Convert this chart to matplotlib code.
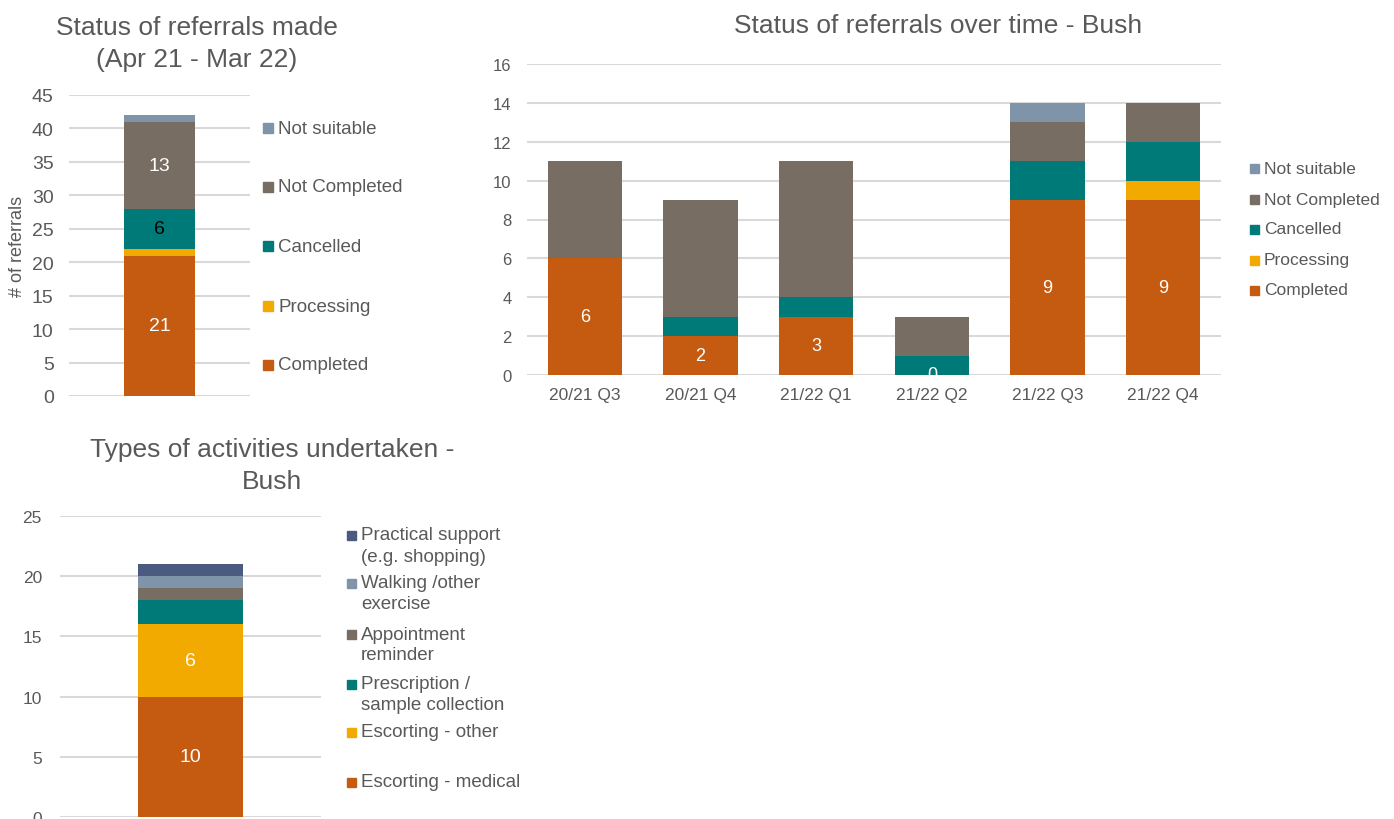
import numpy as np
import matplotlib
matplotlib.use('Agg')
import matplotlib.pyplot as plt
from matplotlib.patches import Rectangle

plt.rcParams['font.family'] = ['Liberation Sans', 'DejaVu Sans']

W, H = 1394, 820
GREY = '#595959'
GRID = '#D9D9D9'

# referral status, whole year
status_names = ['Completed', 'Processing', 'Cancelled', 'Not Completed', 'Not suitable']
status_colors = ['#C55A11', '#F2A900', '#007A78', '#786D62', '#7F94A9']
year_counts = [21, 1, 6, 13, 1]
year_labels = ['21', None, '6', '13', None]
year_label_colors = ['white', None, 'black', 'white', None]

# referral status by quarter
quarters = ['20/21 Q3', '20/21 Q4', '21/22 Q1', '21/22 Q2', '21/22 Q3', '21/22 Q4']
q_completed = [6, 2, 3, 0, 9, 9]
q_processing = [0, 0, 0, 0, 0, 1]
q_cancelled = [0, 1, 1, 1, 2, 2]
q_not_completed = [5, 6, 7, 2, 2, 2]
q_not_suitable = [0, 0, 0, 0, 1, 0]

# activity types
activity_names = ['Escorting - medical', 'Escorting - other',
                  'Prescription /\nsample collection', 'Appointment\nreminder',
                  'Walking /other\nexercise', 'Practical support\n(e.g. shopping)']
activity_colors = ['#C55A11', '#F2A900', '#007A78', '#786D62', '#7F94A9', '#4A5B7F']
activity_counts = [10, 6, 2, 1, 1, 1]
activity_labels = ['10', '6', None, None, None, None]


def px_axes(fig, x0, y0, x1, y1):
    return fig.add_axes([x0 / W, 1 - y1 / H, (x1 - x0) / W, (y1 - y0) / H])


def style_axes(ax, tick_size, pad):
    for s in ax.spines.values():
        s.set_visible(False)
    ax.set_axisbelow(True)
    ax.yaxis.grid(True, color=GRID, linewidth=1.5)
    ax.tick_params(axis='both', length=0, colors=GREY, labelsize=tick_size)
    ax.tick_params(axis='y', pad=pad)


def draw_legend(fig, names, colors, x, ys, size, sq, line_gap=21):
    for name, color, y in zip(names, colors, ys):
        fig.patches.append(Rectangle((x / W, 1 - (y + sq / 2) / H), sq / W, sq / H,
                                     transform=fig.transFigure, color=color))
        for i, line in enumerate(name.split('\n')):
            fig.text((x + sq + 5) / W, 1 - (y + i * line_gap) / H, line,
                     va='center', ha='left', fontsize=size, color=GREY)


fig = plt.figure(figsize=(W / 100, H / 100), dpi=100)

# --- status of referrals made (single stacked bar) ---
ax1 = px_axes(fig, 69, 96, 250, 397)
style_axes(ax1, 14, 11)
bottom = 0
for n, c, v, lab, lc in zip(status_names, status_colors, year_counts, year_labels, year_label_colors):
    ax1.bar(0, v, width=0.39, bottom=bottom, color=c, linewidth=0)
    if lab:
        ax1.text(0, bottom + v / 2, lab, ha='center', va='center', color=lc, fontsize=14)
    bottom += v
ax1.set_xlim(-0.5, 0.5)
ax1.set_ylim(0, 45)
ax1.set_yticks(np.arange(0, 46, 5))
ax1.set_xticks([])
ax1.set_ylabel('# of referrals', color=GREY, fontsize=13, labelpad=4)
fig.text(197 / W, 1 - 44 / H, 'Status of referrals made\n(Apr 21 - Mar 22)',
         ha='center', va='center', fontsize=19, color=GREY, linespacing=1.45)
draw_legend(fig, status_names, status_colors, 263, [366, 307, 247, 188, 129], 13.5, 10)

# --- status of referrals over time ---
ax2 = px_axes(fig, 527, 65, 1221, 376)
style_axes(ax2, 12, 11)
x = np.arange(len(quarters))
series = [q_completed, q_processing, q_cancelled, q_not_completed, q_not_suitable]
bottom = np.zeros(len(quarters))
for n, c, vals in zip(status_names, status_colors, series):
    ax2.bar(x, vals, width=0.64, bottom=bottom, color=c, linewidth=0)
    bottom += np.array(vals)
for xi, v in zip(x, q_completed):
    ax2.text(xi, v / 2, str(v), ha='center', va='center', color='white', fontsize=13)
ax2.set_xlim(-0.5, len(quarters) - 0.5)
ax2.set_ylim(0, 16)
ax2.set_yticks(np.arange(0, 17, 2))
ax2.set_xticks(x)
ax2.set_xticklabels(quarters)
ax2.tick_params(axis='x', pad=9, labelsize=12.5)
fig.text(938 / W, 1 - 26 / H, 'Status of referrals over time - Bush',
         ha='center', va='center', fontsize=19, color=GREY)
draw_legend(fig, status_names, status_colors, 1250, [291, 261, 230, 200, 169], 12.5, 9)

# --- types of activities ---
ax3 = px_axes(fig, 60, 517, 321, 818)
style_axes(ax3, 12.5, 13)
bottom = 0
for n, c, v, lab in zip(activity_names, activity_colors, activity_counts, activity_labels):
    ax3.bar(0, v, width=0.4, bottom=bottom, color=c, linewidth=0)
    if lab:
        ax3.text(0, bottom + v / 2, lab, ha='center', va='center', color='white', fontsize=14)
    bottom += v
ax3.set_xlim(-0.5, 0.5)
ax3.set_ylim(0, 25)
ax3.set_yticks(np.arange(0, 26, 5))
ax3.set_xticks([])
fig.text(272 / W, 1 - 466 / H, 'Types of activities undertaken -\nBush',
         ha='center', va='center', fontsize=19, color=GREY, linespacing=1.4)
draw_legend(fig, activity_names, activity_colors, 347,
            [783, 733, 685, 635, 584, 536], 13.5, 9)

fig.savefig('out.png', dpi=100, facecolor='white')
